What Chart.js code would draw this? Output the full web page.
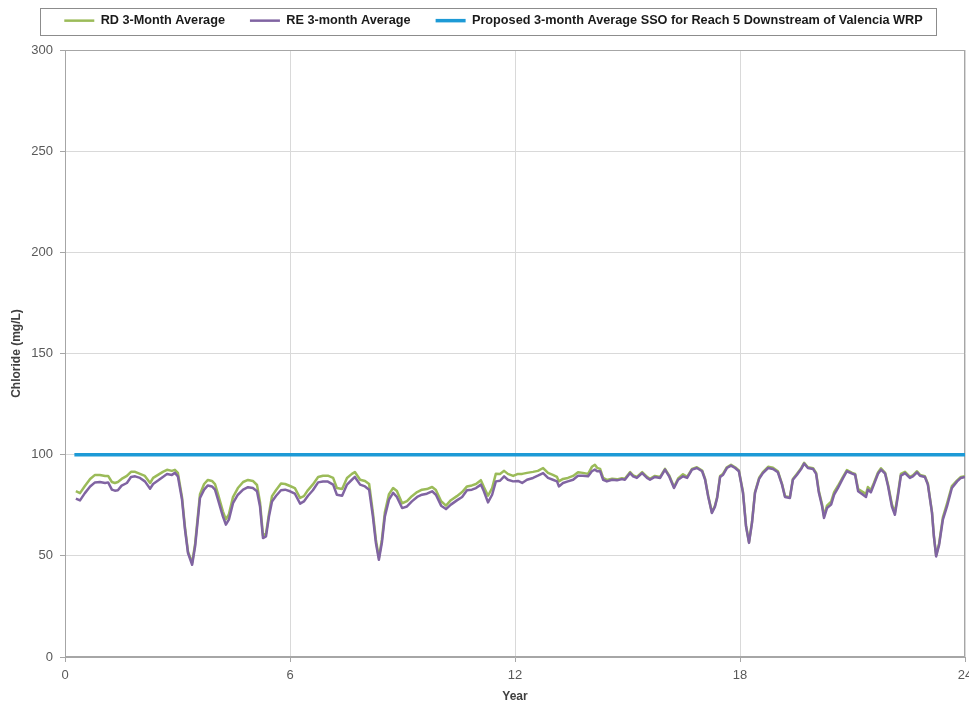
<!DOCTYPE html>
<html>
<head>
<meta charset="utf-8">
<title>Chloride 3-month averages</title>
<script src="https://cdn.jsdelivr.net/npm/chart.js@4.4.1/dist/chart.umd.min.js"></script>
<style>
  html, body { margin: 0; padding: 0; background: #ffffff; }
  #wrap { width: 969px; height: 703px; }
</style>
</head>
<body>
<div id="wrap"><canvas id="chart" width="969" height="703"></canvas></div>
<script>
// --- data ---
const years = [
  0.29, 0.40, 0.53, 0.67, 0.80, 0.93, 1.07, 1.15, 1.25, 1.33, 1.41, 1.51, 1.65, 1.76, 1.87,
  2.00, 2.13, 2.27, 2.35, 2.48, 2.61, 2.72, 2.85, 2.93, 3.01, 3.12, 3.20, 3.28, 3.39, 3.47,
  3.60, 3.71, 3.81, 3.92,
  4.00, 4.08, 4.21, 4.29, 4.37, 4.48, 4.61, 4.75, 4.88, 5.01, 5.12, 5.20, 5.28, 5.36, 5.44,
  5.52, 5.63, 5.76, 5.87, 6.00, 6.13, 6.27, 6.37, 6.48, 6.61, 6.75, 6.88, 7.01, 7.15, 7.25,
  7.39, 7.52, 7.65, 7.73, 7.87,
  8.00, 8.11, 8.21, 8.29, 8.37, 8.45, 8.53, 8.64, 8.75, 8.85, 8.99, 9.12, 9.25, 9.39, 9.52,
  9.65, 9.79, 9.89, 10.03, 10.16, 10.29, 10.45, 10.59, 10.72, 10.85, 10.96, 11.09, 11.17,
  11.28, 11.39, 11.49, 11.60, 11.71, 11.81, 11.95,
  12.08, 12.19, 12.32, 12.48, 12.61, 12.75, 12.88, 13.01, 13.12, 13.17, 13.28, 13.41, 13.55,
  13.68, 13.81, 13.95, 14.05, 14.13, 14.19, 14.27, 14.35, 14.45, 14.59, 14.72, 14.85, 14.93,
  15.07, 15.15, 15.25, 15.39, 15.52, 15.60, 15.73, 15.87,
  16.00, 16.11, 16.24, 16.35, 16.48, 16.59, 16.72, 16.85, 16.99, 17.07, 17.15, 17.25, 17.33,
  17.39, 17.47, 17.55, 17.65, 17.76, 17.87, 17.97, 18.08, 18.16, 18.24, 18.32, 18.40, 18.51,
  18.61, 18.75, 18.88, 19.01, 19.12, 19.20, 19.33, 19.41, 19.52, 19.63, 19.71, 19.81, 19.95,
  20.03, 20.10, 20.19, 20.24, 20.32, 20.43, 20.51, 20.61, 20.75, 20.85, 20.99, 21.07, 21.15,
  21.28, 21.36, 21.41, 21.49, 21.57, 21.68, 21.76, 21.87, 21.95, 22.05, 22.13, 22.21, 22.29,
  22.40, 22.53, 22.61, 22.72, 22.80, 22.93, 23.01, 23.12, 23.17, 23.23, 23.31, 23.41, 23.52,
  23.65, 23.79, 23.89, 24.00
];

// RD 3-Month Average (green)
const rdValues = [
  82, 81, 84.5, 88, 90, 90, 89.5, 89.5, 86.5, 86, 86.5, 88, 89.5, 91.5, 91.5,
  90.5, 89.5, 86, 88.5, 90, 91.5, 92.5, 92, 92.5, 91, 79, 64, 52, 46.5, 56,
  80.5, 85.5, 87.5, 87,
  85.5, 80.5, 72, 68, 70.5, 79, 83.5, 86.5, 87.5, 87, 85, 76.5, 60, 61, 71,
  79.5, 82.5, 85.7, 85.5, 84.5, 83.5, 78.6, 79.5, 82.5, 85.3, 89, 89.6, 89.6, 88.5, 83.5,
  83, 88.5, 90.5, 91.4, 87.6,
  87, 85.5, 71.5, 58, 49, 58, 71.5, 80.5, 83.5, 82, 76, 77, 79.5, 81.5, 82.7,
  83, 84, 82.5, 77, 74.8, 77.5, 79.5, 81.5, 84.3, 84.8, 85.5, 87.4, 84,
  79.7, 83.5, 90.6, 90.5, 92, 90.5, 89.5,
  90.5, 90.5, 91, 91.5, 92, 93.4, 91, 90, 89, 86.8, 88, 88.5, 89.5,
  91.3, 91, 90.5, 94, 95, 93.5, 93, 88.5, 87.5, 88.1, 87.8, 88.4, 88.1,
  91.4, 89.8, 89, 91.4, 89, 88.1, 89.5, 89,
  93, 89.8, 84, 88.2, 90.3, 89, 93, 93.8, 92.2, 88, 79.8, 71.6, 74.6,
  79, 89.5, 90.6, 93.8, 95, 93.8, 92.2, 81.5, 65, 56.8, 66.7, 81.5, 88.6,
  91.4, 94, 93.5, 91.8, 85.6, 79.5, 79, 88, 90.6, 93.3, 96, 93.8, 93.3,
  91, 82.3, 75.3, 69.7, 74.8, 76.8, 81.5, 84.5, 89.2, 92.4, 91, 90.5, 83,
  81.5, 80.5, 84, 82.5, 86, 91.2, 93.3, 91, 85, 75.5, 71.3, 80.5, 90.5,
  91.5, 89, 89.8, 91.8, 90, 89.4, 85.6, 71.6, 60, 50.2, 56.2, 69, 75.8,
  84.5, 87.3, 89, 89.3
];

// RE 3-month Average (purple)
const reValues = [
  78.3, 77.4, 81, 84.3, 86.3, 86.5, 86, 86.3, 82.7, 82.2, 82.4, 84.7, 86, 89, 89.3,
  88.5, 86.8, 83.2, 85.5, 87.2, 89, 90.4, 90, 91, 89.3, 77.8, 63, 51.4, 45.6, 54.7,
  78.6, 82.7, 84.8, 84.3,
  82.7, 77.8, 69.5, 65.4, 67.9, 76, 80.2, 82.7, 83.9, 83.5, 81.9, 74.4, 58.8, 59.6, 69.5,
  76.9, 79.7, 82.4, 82.7, 81.9, 80.7, 75.8, 76.9, 79.7, 82.4, 86.3, 86.7, 86.7, 85.2, 80.2,
  79.7, 85.2, 87.6, 89, 85.2,
  84.3, 82.7, 69.5, 56.4, 48.1, 56.4, 69.5, 77.8, 81.1, 79.1, 73.6, 74.4, 76.9, 79.1, 80.2,
  80.7, 81.9, 80.2, 74.8, 73.1, 75.3, 77.4, 79.1, 82.4, 82.7, 83.5, 85.2, 81.9,
  76.4, 80.2, 86.8, 87.1, 89.3, 87.6, 86.8,
  87, 86, 87.6, 88.5, 89.6, 90.9, 88.5, 87.6, 86.8, 84.3, 86, 86.8, 87.6,
  89.6, 89.6, 89.3, 91.8, 92.6, 91.8, 91.8, 87.6, 86.8, 87.6, 87.3, 87.9, 87.6,
  90.9, 89.3, 88.5, 90.9, 88.5, 87.6, 89, 88.5,
  92.6, 89.3, 83.5, 87.6, 89.3, 88.5, 92.6, 93.4, 91.8, 87.6, 79.4, 71.2, 74.2,
  78.6, 89, 90.1, 93.4, 94.6, 93.4, 91.8, 81.1, 64.6, 56.4, 66.3, 81.1, 88,
  90.9, 93.4, 92.9, 91.3, 85.2, 79.1, 78.6, 87.6, 90.1, 92.9, 95.6, 93.4, 92.9,
  90.5, 81.5, 74.4, 68.7, 73.6, 75.3, 80.2, 83.5, 88.5, 91.8, 90.6, 90.1, 81.9,
  80.2, 79.1, 82.7, 81.4, 85.2, 90.6, 92.6, 90.6, 84.3, 74.4, 70.3, 79.4, 89.6,
  90.9, 88.5, 89.3, 91.3, 89.6, 89, 85.2, 71.2, 59.6, 49.7, 55.4, 67.9, 74.4,
  83.5, 86.8, 88.5, 89
];

// Proposed SSO (flat line)
const ssoYears = [0.25, 24];
const ssoValues = [100, 100];

const xTicks = [0, 6, 12, 18, 24];
const yTicks = [0, 50, 100, 150, 200, 250, 300];

const seriesLabels = [
  'RD 3-Month Average',
  'RE 3-month Average',
  'Proposed 3-month Average SSO for Reach 5 Downstream of Valencia WRP'
];

const FONT = "'Liberation Sans', Arial, sans-serif";

const toPoints = (xs, ys) => xs.map((x, i) => ({ x: x, y: ys[i] }));

/** Lift the legend closer to the top edge and draw frames around legend and plot area */
const framePlugin = {
  id: 'frames',
  afterLayout(chart) {
    const lg = chart.legend;
    if (!lg) return;
    lg.top -= 13; lg.bottom -= 13;
    lg.left += 11; lg.right += 11;
  },
  beforeDatasetsDraw(chart) {
    const { ctx, chartArea: a } = chart;
    ctx.save();
    ctx.strokeStyle = '#a6a6a6';
    ctx.lineWidth = 1;
    ctx.strokeRect(a.left + 0.5, a.top + 0.5, a.right - a.left - 1, a.bottom - a.top - 1);
    ctx.restore();
  },
  afterDraw(chart) {
    const boxes = chart.legend && chart.legend.legendHitBoxes;
    if (!boxes || !boxes.length) return;
    const left = Math.min(...boxes.map(b => b.left)) - 24;
    const right = Math.max(...boxes.map(b => b.left + b.width)) + 14;
    const mid = boxes[0].top + boxes[0].height / 2;
    const { ctx } = chart;
    ctx.save();
    ctx.strokeStyle = '#8c8c8c';
    ctx.lineWidth = 1;
    ctx.strokeRect(Math.round(left) + 0.5, Math.round(mid - 13) + 0.5,
      Math.round(right - left), 27);
    ctx.restore();
  }
};

new Chart(document.getElementById('chart'), {
  type: 'line',
  data: {
    datasets: [
      {
        label: seriesLabels[0],
        data: toPoints(years, rdValues),
        borderColor: '#9bbb59',
        backgroundColor: '#9bbb59',
        borderWidth: 2.5,
        order: 3
      },
      {
        label: seriesLabels[1],
        data: toPoints(years, reValues),
        borderColor: '#8064a2',
        backgroundColor: '#8064a2',
        borderWidth: 2.5,
        order: 2
      },
      {
        label: seriesLabels[2],
        data: toPoints(ssoYears, ssoValues),
        borderColor: '#1d9ad6',
        backgroundColor: '#1d9ad6',
        borderWidth: 3.5,
        order: 1
      }
    ]
  },
  options: {
    responsive: false,
    animation: false,
    events: [],
    layout: { padding: { top: 0, right: 4, bottom: 0, left: 0 } },
    elements: {
      point: { radius: 0 },
      line: { tension: 0, borderJoinStyle: 'round', borderCapStyle: 'butt' }
    },
    plugins: {
      tooltip: { enabled: false },
      legend: {
        position: 'top',
        labels: {
          usePointStyle: true,
          pointStyle: 'line',
          pointStyleWidth: 30,
          padding: 25,
          color: '#1a1a1a',
          font: { family: FONT, size: 12.7, weight: 'bold', lineHeight: 1 },
          sort: (a, b) => a.datasetIndex - b.datasetIndex
        }
      }
    },
    scales: {
      x: {
        type: 'linear',
        min: 0,
        max: 24,
        afterBuildTicks: s => { s.ticks = xTicks.map(v => ({ value: v })); },
        afterFit: s => { s.height = 46; s.paddingLeft = 0; s.paddingRight = 0; },
        grid: { color: '#d9d9d9', tickColor: '#a6a6a6', tickLength: 5 },
        border: { color: '#a6a6a6' },
        ticks: {
          color: '#595959',
          padding: 6,
          maxRotation: 0,
          font: { family: FONT, size: 13 }
        },
        title: {
          display: true,
          text: 'Year',
          color: '#404040',
          padding: 0,
          font: { family: FONT, size: 12, weight: 'bold', lineHeight: 1 }
        }
      },
      y: {
        min: 0,
        max: 300,
        afterBuildTicks: s => { s.ticks = yTicks.map(v => ({ value: v })); },
        afterFit: s => { s.width = 65; s.paddingTop = 50; },
        grid: { color: '#d9d9d9', tickColor: '#a6a6a6', tickLength: 5 },
        border: { color: '#a6a6a6' },
        ticks: {
          color: '#595959',
          padding: 7,
          font: { family: FONT, size: 13 }
        },
        title: {
          display: true,
          text: 'Chloride (mg/L)',
          color: '#404040',
          padding: { top: 11, bottom: 0 },
          font: { family: FONT, size: 12, weight: 'bold', lineHeight: 1 }
        }
      }
    }
  },
  plugins: [framePlugin]
});
</script>
</body>
</html>
